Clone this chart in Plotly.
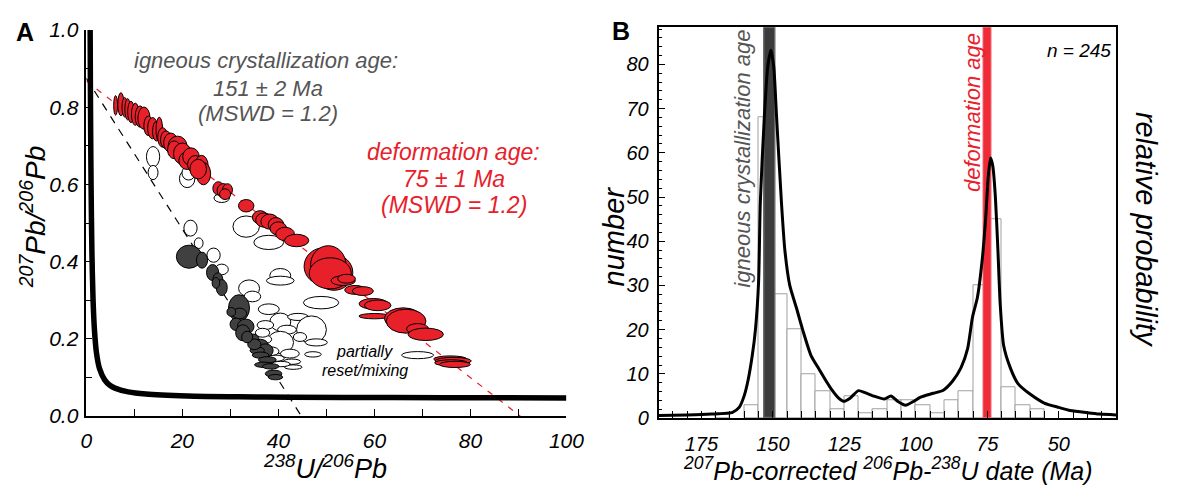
import plotly.graph_objects as go

FONT = "Liberation Sans"
RED = "#e8202a"
GRAY_TXT = "#555555"

# ---------------- Panel A data ----------------
# Tera-Wasserburg concordia
concordia_x = [0.78, 0.85, 0.90, 0.99, 1.16, 1.39, 1.69, 2.11, 2.75, 3.82, 4.89, 5.96, 8.72, 12.4, 21.0, 31.7, 42.5, 64.0, 85.5, 100.0]
concordia_y = [1.046, 0.845, 0.735, 0.597, 0.425, 0.306, 0.223, 0.164, 0.123, 0.094, 0.080, 0.0725, 0.0628, 0.0572, 0.0523, 0.0501, 0.0490, 0.0480, 0.0475, 0.0473]

# discordia lines (upper intercept on y axis, lower intercept on x axis)
deform_line_x = [0.0, 90.4]
deform_line_y = [0.868, 0.0]
igneous_line_x = [0.0, 44.8]
igneous_line_y = [0.875, 0.0]

# ellipses: centre x, centre y, half-width x, half-height y
red_x = [6.1, 7.2, 8.0, 8.6, 9.3, 10.2, 11.2, 12.0, 12.9, 13.8, 14.6, 15.2, 15.9, 16.6, 17.6, 19.0, 18.3, 20.0, 21.0, 21.8,
         22.7, 24.0, 24.4, 23.3, 27.5, 28.5, 29.4, 28.9, 33.3, 36.2, 37.0, 38.2, 39.5, 40.0, 41.4, 43.8,
         49.5, 51.6, 50.4, 50.8, 53.5, 54.2, 56.0, 57.6, 59.8, 60.7, 60.0, 66.0, 66.6, 69.0, 70.7, 75.8, 76.4, 76.0, 76.8]
red_y = [0.805, 0.808, 0.800, 0.795, 0.788, 0.782, 0.776, 0.772, 0.752, 0.746, 0.738, 0.742, 0.722, 0.716, 0.708, 0.700, 0.690, 0.680, 0.662, 0.672,
         0.652, 0.648, 0.628, 0.640, 0.590, 0.584, 0.586, 0.575, 0.545, 0.515, 0.508, 0.504, 0.496, 0.486, 0.472, 0.455,
         0.388, 0.372, 0.392, 0.370, 0.351, 0.356, 0.327, 0.324, 0.291, 0.287, 0.259, 0.253, 0.246, 0.226, 0.212, 0.148, 0.143, 0.138, 0.134]
red_sx = [0.35, 0.55, 0.5, 0.5, 0.6, 0.7, 0.9, 1.1, 0.8, 0.9, 0.7, 0.6, 0.9, 1.0, 1.3, 1.7, 1.2, 1.6, 1.5, 1.5,
          1.4, 1.2, 1.3, 1.5, 1.0, 1.1, 0.9, 1.0, 1.4, 1.4, 1.5, 1.6, 1.4, 1.5, 1.7, 2.2,
          3.6, 3.4, 3.2, 3.8, 2.2, 1.6, 1.9, 1.9, 2.6, 2.4, 2.8, 3.4, 3.6, 2.0, 3.2, 3.0, 3.3, 3.0, 2.8]
red_sy = [0.022, 0.026, 0.022, 0.024, 0.024, 0.025, 0.024, 0.025, 0.022, 0.024, 0.022, 0.028, 0.022, 0.020, 0.022, 0.022, 0.020, 0.024, 0.020, 0.020,
          0.020, 0.024, 0.025, 0.022, 0.015, 0.016, 0.014, 0.012, 0.014, 0.015, 0.016, 0.017, 0.016, 0.015, 0.015, 0.014,
          0.042, 0.040, 0.043, 0.035, 0.011, 0.010, 0.010, 0.010, 0.012, 0.012, 0.006, 0.024, 0.027, 0.012, 0.014, 0.007, 0.008, 0.007, 0.007]

dark_x = [21.4, 24.1, 26.3, 27.4, 28.2, 27.0, 31.8, 31.9, 30.2, 31.2, 33.2, 32.6, 34.6, 36.3, 37.3, 35.6, 36.3, 37.7, 37.0, 38.4, 39.0, 39.4, 35.0, 33.5]
dark_y = [0.413, 0.404, 0.372, 0.353, 0.333, 0.345, 0.280, 0.266, 0.270, 0.238, 0.232, 0.216, 0.199, 0.183, 0.170, 0.170, 0.158, 0.146, 0.133, 0.129, 0.110, 0.101, 0.186, 0.205]
dark_sx = [2.3, 1.0, 1.1, 0.9, 1.0, 0.7, 1.9, 1.3, 0.8, 1.1, 1.5, 1.3, 1.2, 1.4, 1.4, 1.3, 1.5, 1.6, 1.7, 1.5, 1.5, 1.3, 1.2, 1.0]
dark_sy = [0.026, 0.018, 0.018, 0.016, 0.018, 0.012, 0.030, 0.012, 0.010, 0.014, 0.017, 0.018, 0.012, 0.014, 0.015, 0.008, 0.007, 0.007, 0.006, 0.006, 0.008, 0.006, 0.012, 0.013]

white_x = [13.9, 13.9, 21.0, 21.3, 28.2, 33.3, 38.0, 21.7, 23.4, 26.5, 28.2, 40.4, 40.4, 33.9, 34.6, 48.9, 38.0, 40.4, 44.1, 46.9,
           47.9, 41.8, 40.4, 37.3, 37.0, 42.4, 47.2, 69.0, 42.8, 43.1, 38.4, 36.7, 44.5, 39.5, 40.5]
white_y = [0.672, 0.631, 0.615, 0.630, 0.565, 0.491, 0.450, 0.487, 0.448, 0.417, 0.380, 0.364, 0.351, 0.331, 0.310, 0.294, 0.277, 0.244, 0.257, 0.224,
           0.191, 0.224, 0.191, 0.236, 0.199, 0.162, 0.160, 0.158, 0.141, 0.127, 0.168, 0.216, 0.205, 0.150, 0.135]
white_sx = [1.2, 0.9, 1.4, 1.2, 1.4, 2.4, 2.7, 1.2, 0.8, 1.2, 1.2, 1.9, 2.5, 1.9, 1.5, 3.2, 1.9, 1.9, 1.9, 2.7,
            2.0, 1.7, 2.4, 1.5, 1.4, 1.7, 1.5, 2.9, 1.6, 1.6, 1.5, 1.3, 1.2, 1.5, 1.7]
white_sy = [0.023, 0.016, 0.020, 0.016, 0.010, 0.024, 0.016, 0.018, 0.012, 0.016, 0.012, 0.016, 0.010, 0.019, 0.012, 0.014, 0.012, 0.020, 0.008, 0.031,
            0.008, 0.010, 0.025, 0.010, 0.010, 0.010, 0.006, 0.008, 0.006, 0.005, 0.010, 0.010, 0.010, 0.007, 0.006]

# ---------------- Panel B data ----------------
bin_centers = [167.5, 157.5, 152.5, 147.5, 142.5, 137.5, 132.5, 127.5, 122.5, 117.5, 112.5, 107.5, 102.5,
               97.5, 92.5, 87.5, 82.5, 77.5, 72.5, 67.5, 62.5, 57.5]
bin_counts = [1, 3, 68, 28, 20, 10, 6, 2, 5, 1, 2, 4, 4, 3, 1, 4, 6, 30, 45, 7, 3, 2]
bin_width = 5

pdf_age = [190, 180, 171.5, 164.1, 161.8, 160.1, 158.7, 157.2, 156.1, 155.0, 154.4, 153.0, 151.8, 150.7, 149.7, 148.7, 147.0,
           145.8, 144.1, 141.8, 139.6, 136.7, 133.8, 131.5, 129.3, 127.0, 125.3, 123.0, 120.1, 117.8, 114.4, 111.0, 108.7,
           106.4, 103.6, 100.7, 98.5, 93.9, 90.4, 87.0, 84.2, 81.9, 80.2, 78.5, 76.8, 75.6, 74.7, 73.9, 73.1, 72.2, 71.3,
           70.5, 69.3, 67.0, 64.3, 59.6, 55.1, 50.0, 46.0, 40.0, 35.7, 30.0]
pdf_val = [0.6, 0.7, 0.9, 1.3, 2.4, 4.9, 8.5, 14.2, 20.0, 30.8, 48.7, 68.0, 79.5, 83.2, 79.5, 68.0, 48.7,
           37.9, 30.0, 25.0, 20.0, 14.2, 11.0, 8.5, 6.3, 4.5, 3.8, 4.5, 6.2, 5.75, 4.9, 4.3, 5.0,
           3.8, 2.9, 3.8, 4.7, 5.6, 6.3, 8.5, 11.4, 15.7, 22.8, 27.2, 35.8, 45.1, 54.5, 58.8, 57.0, 50.1, 37.9,
           25.7, 16.4, 11.4, 7.8, 5.2, 3.4, 2.4, 1.7, 1.2, 0.9, 0.7]

igneous_age, igneous_err = 151, 2
deform_age, deform_err = 75, 1.3
n_grains = 245

ELLIPSE_SCALE = 1.15  # drawing scale of the error ellipses

fig = go.Figure()

# Panel A traces
fig.add_trace(go.Scatter(x=igneous_line_x, y=igneous_line_y, mode="lines", xaxis="x", yaxis="y",
                         line=dict(color="black", width=1.2, dash="8px,7px"), hoverinfo="skip", showlegend=False))
fig.add_trace(go.Scatter(x=deform_line_x, y=deform_line_y, mode="lines", xaxis="x", yaxis="y",
                         line=dict(color=RED, width=1.2, dash="6px,7px"), hoverinfo="skip", showlegend=False))
fig.add_trace(go.Scatter(x=concordia_x, y=concordia_y, mode="lines", xaxis="x", yaxis="y",
                         line=dict(color="black", width=5.5, shape="spline", smoothing=0.7),
                         hoverinfo="skip", showlegend=False))

shapes = []
def add_ellipses(xs, ys, sxs, sys, fill):
    for cx, cy, sx, sy in zip(xs, ys, sxs, sys):
        sx *= ELLIPSE_SCALE
        sy *= ELLIPSE_SCALE
        shapes.append(dict(type="circle", xref="x", yref="y", x0=cx - sx, x1=cx + sx, y0=cy - sy, y1=cy + sy,
                           fillcolor=fill, line=dict(color="black", width=1), layer="above"))

add_ellipses(white_x, white_y, white_sx, white_sy, "white")
add_ellipses(dark_x, dark_y, dark_sx, dark_sy, "#404040")
add_ellipses(red_x, red_y, red_sx, red_sy, RED)

# Panel B traces
fig.add_trace(go.Bar(x=bin_centers, y=bin_counts, width=bin_width, xaxis="x2", yaxis="y2",
                     marker=dict(color="white", line=dict(color="#a0a0a0", width=1)),
                     hoverinfo="skip", showlegend=False))
fig.add_trace(go.Bar(x=[igneous_age], y=[200], width=[2 * igneous_err], xaxis="x2", yaxis="y2",
                     marker=dict(color="#3c3c3c", line=dict(color="#6a6a6a", width=1.5)),
                     hoverinfo="skip", showlegend=False))
fig.add_trace(go.Bar(x=[deform_age], y=[200], width=[2 * deform_err], xaxis="x2", yaxis="y2",
                     marker=dict(color="#ee2b36", line=dict(color="#f26a72", width=1)),
                     hoverinfo="skip", showlegend=False))
fig.add_trace(go.Scatter(x=pdf_age, y=pdf_val, mode="lines", xaxis="x2", yaxis="y2",
                         line=dict(color="black", width=3, shape="spline", smoothing=0.6),
                         hoverinfo="skip", showlegend=False))

W, H = 1184, 491
def px(x):
    return x / W
def py(y):
    return 1 - y / H

tickfont_a = dict(family=FONT, size=21, color="black", style="italic")
tickfont_b = dict(family=FONT, size=20, color="black", style="italic")

fig.update_layout(
    width=W, height=H, margin=dict(l=0, r=0, t=0, b=0),
    paper_bgcolor="white", plot_bgcolor="white", barmode="overlay", bargap=0,
    showlegend=False,
    shapes=shapes,
    xaxis=dict(domain=[px(82), px(572)], range=[0, 100], anchor="y", showgrid=False, zeroline=False,
               showline=True, linecolor="black", linewidth=1.5, ticks="inside", ticklen=7, tickwidth=1.2,
               tickcolor="black", dtick=20, tick0=0, tickfont=tickfont_a, ticklabelstandoff=5,
               minor=dict(dtick=10, ticks="inside", ticklen=7, tickwidth=1.2, tickcolor="black", showgrid=False)),
    yaxis=dict(domain=[py(424), py(19)], range=[0, 1.0], anchor="x", showgrid=False, zeroline=False,
               showline=True, linecolor="black", linewidth=1.5, ticks="inside", ticklen=6, tickwidth=1.2,
               tickcolor="black", dtick=0.2, tick0=0, tickformat=".1f", tickfont=tickfont_a, ticklabelstandoff=2,
               minor=dict(dtick=0.1, ticks="inside", ticklen=6, tickwidth=1.2, tickcolor="black", showgrid=False)),
    xaxis2=dict(domain=[px(666), px(1133)], range=[190, 30], anchor="y2", showgrid=False, zeroline=False,
                showline=True, mirror=True, linecolor="black", linewidth=1.5, ticks="inside", ticklen=7,
                tickwidth=1.2, tickcolor="black", dtick=25, tick0=0, tickfont=tickfont_b, ticklabelstandoff=7,
                minor=dict(dtick=5, ticks="inside", ticklen=7, tickwidth=1.2, tickcolor="black", showgrid=False)),
    yaxis2=dict(domain=[py(426), py(16)], range=[0, 88.4], anchor="x2", showgrid=False, zeroline=False,
                showline=True, mirror=True, linecolor="black", linewidth=1.5, ticks="inside", ticklen=7,
                tickwidth=1.2, tickcolor="black", dtick=10, tick0=0, tickfont=tickfont_b, ticklabelstandoff=4,
                minor=dict(dtick=2, ticks="inside", ticklen=4, tickwidth=1.2, tickcolor="black", showgrid=False)),
)

def ann(text, x, y, size, color="black", angle=0, italic=True, bold=False, xanchor="center"):
    fig.add_annotation(text=text, x=px(x), y=py(y), xref="paper", yref="paper", showarrow=False,
                       xanchor=xanchor, yanchor="middle", textangle=angle,
                       font=dict(family=FONT, size=size, color=color,
                                 style="italic" if italic else "normal",
                                 weight="bold" if bold else "normal"))

ann("A", 19, 21, 25, italic=False, bold=True)
ann("B", 628, 20, 25, italic=False, bold=True)

ann("igneous crystallization age:", 265, 51, 22, color=GRAY_TXT)
ann(f"{igneous_age} ± {igneous_err} Ma", 267, 80, 22, color=GRAY_TXT)
ann("(MSWD = 1.2)", 267, 107, 22, color=GRAY_TXT)

ann("deformation age:", 457, 147, 23, color=RED)
ann(f"{deform_age} ± 1 Ma", 457, 175, 23, color=RED)
ann("(MSWD = 1.2)", 457, 203, 23, color=RED)

ann("partially", 366, 356, 16)
ann("reset/mixing", 366, 376, 16)

ann("<sup>207</sup>Pb/<sup>206</sup>Pb", 28, 215, 28, angle=-90)
ann("<sup>238</sup>U/<sup>206</sup>Pb", 326, 477, 27)

ann("number", 621, 235, 29, angle=-90)
ann("relative probability", 1163, 228, 29, angle=90)
ann(f"n = {n_grains}", 1095, 40, 19)
ann("<sup>207</sup>Pb-corrected <sup>206</sup>Pb-<sup>238</sup>U date (Ma)", 900, 479, 25)

ann("igneous crystallization age", 752, 154, 22, color=GRAY_TXT, angle=-90)
ann("deformation age", 986, 106, 22, color=RED, angle=-90)

fig.write_html("out.html", post_script="document.body.style.margin='0px';")
